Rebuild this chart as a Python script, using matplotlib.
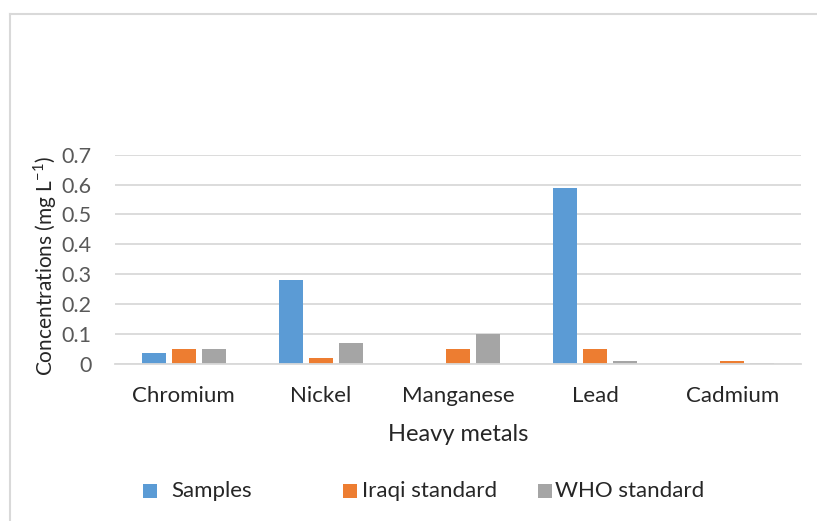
import matplotlib
matplotlib.use("Agg")
import matplotlib.pyplot as plt
from matplotlib.patches import Rectangle
from matplotlib.lines import Line2D
import numpy as np

plt.rcParams['font.family'] = ['Lato', 'DejaVu Sans']

categories = ["Chromium", "Nickel", "Manganese", "Lead", "Cadmium"]
series_names = ["Samples", "Iraqi standard", "WHO standard"]
samples = [0.036, 0.281, 0.0, 0.587, 0.0]
iraqi = [0.05, 0.02, 0.05, 0.05, 0.01]
who = [0.05, 0.07, 0.1, 0.01, 0.003]
yticks = [0, 0.1, 0.2, 0.3, 0.4, 0.5, 0.6, 0.7]
ytick_labels = ["0", "0.1", "0.2", "0.3", "0.4", "0.5", "0.6", "0.7"]
colors = ["#5B9BD5", "#ED7D31", "#A5A5A5"]

W, H = 817, 521
fig = plt.figure(figsize=(W / 100, H / 100), dpi=100)
ax = fig.add_axes([115 / W, 1 - 364 / H, (800.7 - 115) / W, (364 - 154.7) / H])

x = np.arange(len(categories))
width = 0.175
step = 0.219
for i, (vals, c) in enumerate(zip([samples, iraqi, who], colors)):
    ax.bar(x + (i - 1) * step, vals, width, color=c, zorder=3)

ax.set_xlim(-0.5, len(categories) - 0.5)
ax.set_ylim(0, 0.7)
ax.set_yticks(yticks)
ax.set_yticklabels(ytick_labels)
ax.set_xticks(x)
ax.set_xticklabels(categories)
ax.tick_params(axis='y', length=0, pad=17, labelsize=15.5, labelcolor="#595959")
ax.tick_params(axis='x', length=0, pad=16, labelsize=16, labelcolor="#262626")
ax.grid(axis='y', color="#d9d9d9", linewidth=1.3, zorder=0)
for s in ["top", "right", "left"]:
    ax.spines[s].set_visible(False)
ax.spines["bottom"].set_color("#d9d9d9")
ax.spines["bottom"].set_linewidth(1.3)
ax.spines["bottom"].set_zorder(4)

ax.set_xlabel("Heavy metals", fontsize=17, color="#262626", labelpad=13)
fig.text(45 / W, 1 - 266 / H, r"Concentrations (mg L$^{\mathregular{-1}}$)", rotation=90,
         ha='center', va='center', fontsize=15, color="#262626")

# legend
leg_marker_x = [142.5, 343, 538]
leg_text_x = [171, 362, 555]
for name, c, mx, tx in zip(series_names, colors, leg_marker_x, leg_text_x):
    fig.add_artist(Rectangle((mx / W, 1 - 498 / H), 14 / W, 14 / H, transform=fig.transFigure,
                             facecolor=c, edgecolor='none'))
    fig.text(tx / W, 1 - 491 / H, name, ha='left', va='center', fontsize=16, color="#262626")

# chart border (top and left)
fig.add_artist(Line2D([9.5 / W, 1.0], [1 - 13.5 / H, 1 - 13.5 / H], transform=fig.transFigure,
                      color="#d9d9d9", linewidth=1.5))
fig.add_artist(Line2D([9.5 / W, 9.5 / W], [0, 1 - 13.5 / H], transform=fig.transFigure,
                      color="#d9d9d9", linewidth=1.5))

fig.savefig("out.png", dpi=100, facecolor="white")
